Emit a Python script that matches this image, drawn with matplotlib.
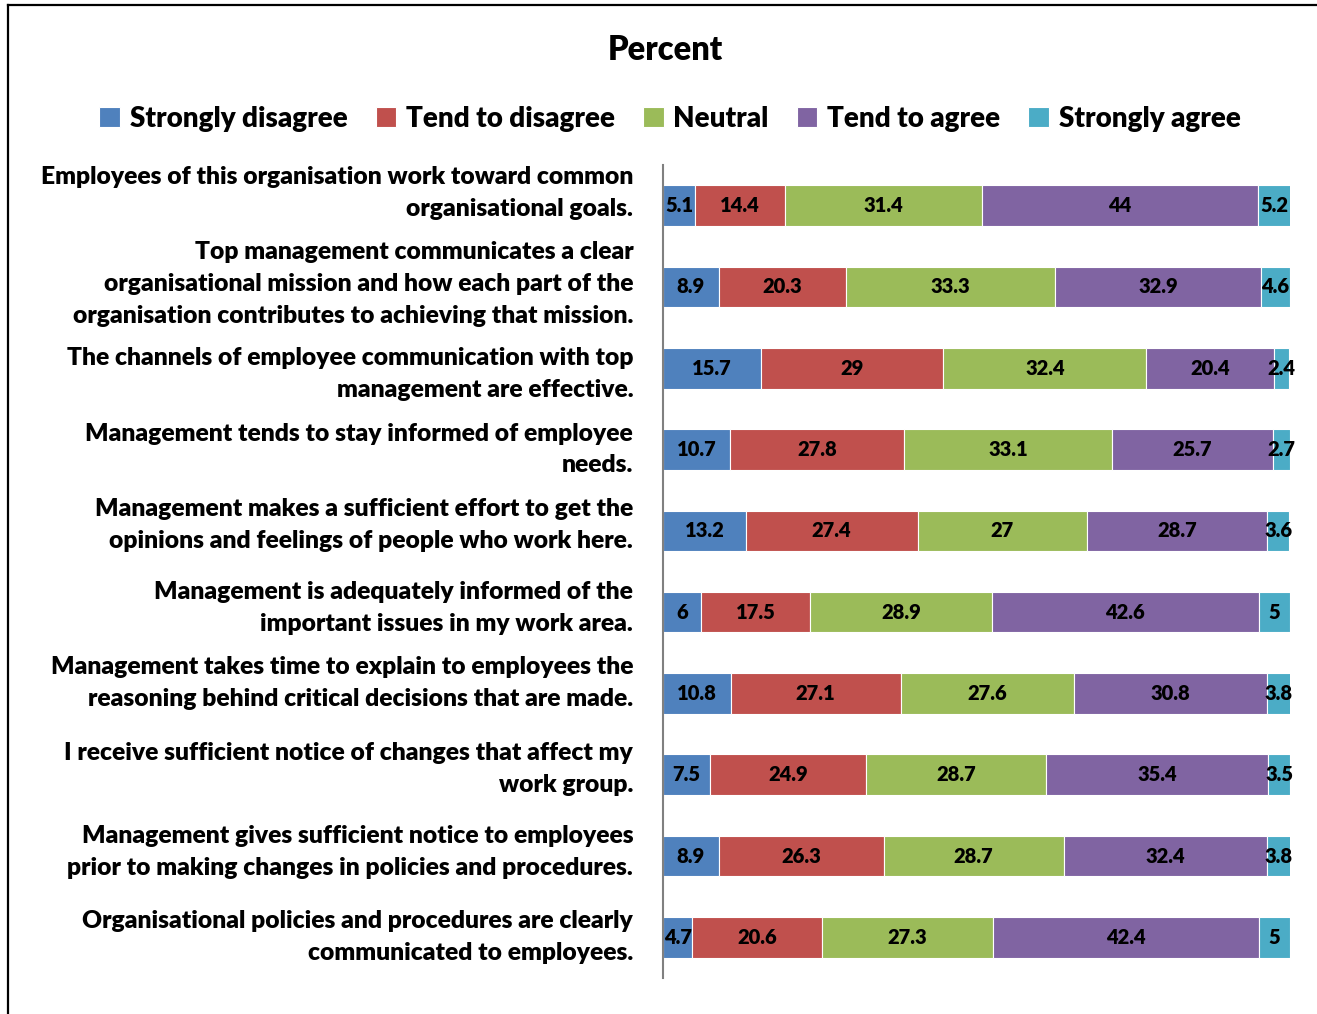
import matplotlib
matplotlib.use("Agg")
import matplotlib.pyplot as plt
import matplotlib.transforms as mtransforms
from matplotlib.lines import Line2D
import numpy as np

plt.rcParams['font.family'] = ['Lato', 'DejaVu Sans']
plt.rcParams['font.weight'] = 800

statements = [
    "Employees of this organisation work toward common\norganisational goals.",
    "Top management communicates a clear\norganisational mission and how each part of the\norganisation contributes to achieving that mission.",
    "The channels of employee communication with top\nmanagement are effective.",
    "Management tends to stay informed of employee\nneeds.",
    "Management makes a sufficient effort to get the\nopinions and feelings of people who work here.",
    "Management is adequately informed of the\nimportant issues in my work area.",
    "Management takes time to explain to employees the\nreasoning behind critical decisions that are made.",
    "I receive sufficient notice of changes that affect my\nwork group.",
    "Management gives sufficient notice to employees\nprior to making changes in policies and procedures.",
    "Organisational policies and procedures are clearly\ncommunicated to employees.",
]

categories = ["Strongly disagree", "Tend to disagree", "Neutral", "Tend to agree", "Strongly agree"]
colors = ["#4F81BD", "#C0504D", "#9BBB59", "#8064A2", "#4BACC6"]

strongly_disagree = [5.1, 8.9, 15.7, 10.7, 13.2, 6, 10.8, 7.5, 8.9, 4.7]
tend_to_disagree = [14.4, 20.3, 29, 27.8, 27.4, 17.5, 27.1, 24.9, 26.3, 20.6]
neutral = [31.4, 33.3, 32.4, 33.1, 27, 28.9, 27.6, 28.7, 28.7, 27.3]
tend_to_agree = [44, 32.9, 20.4, 25.7, 28.7, 42.6, 30.8, 35.4, 32.4, 42.4]
strongly_agree = [5.2, 4.6, 2.4, 2.7, 3.6, 5, 3.8, 3.5, 3.8, 5]

series = [strongly_disagree, tend_to_disagree, neutral, tend_to_agree, strongly_agree]

# small vertical nudges (in pixels) so the wrapped category labels sit like the original layout
label_shift = [20, 10, 1, 7, 13, 11, 17, 13, 11, 7]

W, H = 1317, 1014
fig = plt.figure(figsize=(W / 100, H / 100), dpi=100)
ax = fig.add_axes([663 / W, 1 - 978 / H, 627 / W, (978 - 165) / H])

y = np.arange(len(statements))
left = np.zeros(len(statements))
for name, vals, col in zip(categories, series, colors):
    bars = ax.barh(y, vals, left=left, height=0.5, color=col, edgecolor='white',
                   linewidth=0.8, label=name)
    ax.bar_label(bars, labels=[f"{v:g}" for v in vals], label_type='center',
                 fontsize=14.5, fontweight=800, color='black')
    left += np.array(vals)

ax.set_xlim(0, 100)
ax.set_ylim(len(statements) - 0.5, -0.5)
ax.set_yticks(y)
ax.set_yticklabels(statements, fontsize=17.7, fontweight=800, ha='right',
                   linespacing=1.55)
ax.tick_params(axis='y', length=0, pad=21.5)
ax.set_xticks([])
for lbl, dy in zip(ax.get_yticklabels(), label_shift):
    lbl.set_transform(lbl.get_transform() +
                      mtransforms.ScaledTranslation(0, dy / 100, fig.dpi_scale_trans))
for side in ['top', 'right', 'bottom']:
    ax.spines[side].set_visible(False)
ax.spines['left'].set_color('#808080')
ax.spines['left'].set_linewidth(1.5)

fig.text(665 / W, 1 - 50 / H, "Percent", ha='center', va='center',
         fontsize=23.5, fontweight=800)

fig.legend(loc='center', bbox_to_anchor=(670 / W, 1 - 119 / H), ncol=5,
           frameon=False, handlelength=0.75, handleheight=0.75,
           handletextpad=0.35, columnspacing=1.0,
           prop={'weight': 800, 'size': 20})

# outer chart frame
fig.add_artist(Line2D([8 / W, 1], [1 - 5 / H, 1 - 5 / H], transform=fig.transFigure,
                      color='black', linewidth=1.6))
fig.add_artist(Line2D([8 / W, 8 / W], [0, 1 - 5 / H], transform=fig.transFigure,
                      color='black', linewidth=1.6))

fig.savefig("out.png", dpi=100)
